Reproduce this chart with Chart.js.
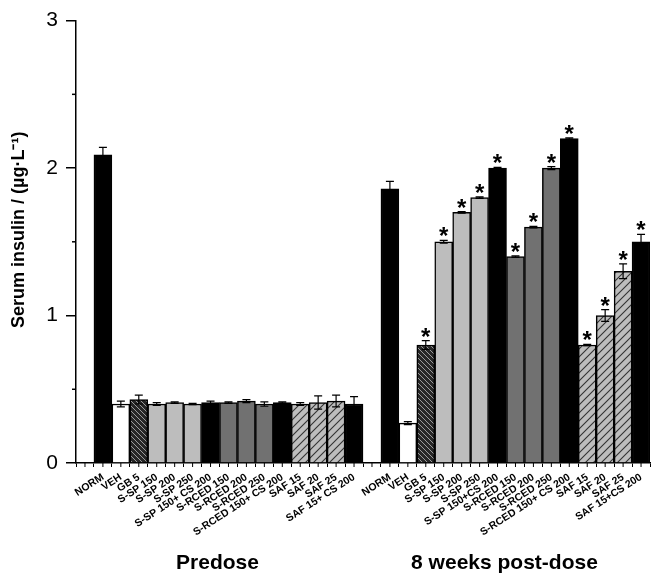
<!DOCTYPE html>
<html>
<head>
<meta charset="utf-8">
<script src="https://cdn.jsdelivr.net/npm/chart.js@4/dist/chart.umd.min.js"></script>
<style>
  html, body { margin: 0; padding: 0; background: #fff; }
  #wrap { width: 652px; height: 573px; position: relative; }
</style>
</head>
<body>
<div id="wrap"><canvas id="c"></canvas></div>
<script>
// ---- Data ----
const groupTitles = ['Predose', '8 weeks post-dose'];
const categoriesPredose = ['NORM','VEH','GB 5','S-SP 150','S-SP 200','S-SP 250','S-SP 150+ CS 200','S-RCED 150','S-RCED 200','S-RCED 250','S-RCED 150+ CS 200','SAF 15','SAF 20','SAF 25','SAF 15+ CS 200'];
const categoriesPost = ['NORM','VEH','GB 5','S-SP 150','S-SP 200','S-SP 250','S-SP 150+CS 200','S-RCED 150','S-RCED 200','S-RCED 250','S-RCED 150+ CS 200','SAF 15','SAF 20','SAF 25','SAF 15+CS 200'];
const predoseValues = [2.09,0.40,0.43,0.40,0.41,0.40,0.41,0.41,0.42,0.40,0.41,0.40,0.41,0.42,0.40];
const predoseErrors = [0.05,0.02,0.03,0.01,0.005,0.005,0.01,0.005,0.01,0.015,0.005,0.01,0.045,0.04,0.05];
const postValues = [1.86,0.27,0.80,1.50,1.70,1.80,2.00,1.40,1.60,2.00,2.20,0.80,1.00,1.30,1.50];
const postErrors = [0.05,0.01,0.03,0.01,0.005,0.005,0.005,0.005,0.005,0.01,0.005,0.005,0.04,0.05,0.05];
const postSignificant = [false,false,true,true,true,true,true,true,true,true,true,true,true,true,true];
const yTicks = [0, 1, 2, 3];
const yMinorTicks = [0.5, 1.5, 2.5];
const yTitle = 'Serum insulin / (\u00b5g\u00b7L\u207b\u00b9)';

// ---- Styles ----
const FONT = "'Liberation Sans', Arial, Helvetica, sans-serif";
const canvas = document.getElementById('c');
const ctx0 = canvas.getContext('2d');

function makeHatch(bg, fg, dir, s, lw) {
  const t = document.createElement('canvas');
  t.width = s; t.height = s;
  const c = t.getContext('2d');
  c.fillStyle = bg; c.fillRect(0, 0, s, s);
  c.strokeStyle = fg; c.lineWidth = lw;
  c.beginPath();
  if (dir === '/') {
    c.moveTo(-1, s + 1); c.lineTo(s + 1, -1);
    c.moveTo(-1, 1); c.lineTo(1, -1);
    c.moveTo(s - 1, s + 1); c.lineTo(s + 1, s - 1);
  } else {
    c.moveTo(-1, -1); c.lineTo(s + 1, s + 1);
    c.moveTo(s - 1, -1); c.lineTo(s + 1, 1);
    c.moveTo(-1, s - 1); c.lineTo(1, s + 1);
  }
  c.stroke();
  return ctx0.createPattern(t, 'repeat');
}
const hatchDark = makeHatch('#262626', '#9a9a9a', '\\', 5, 1);
const hatchLight = makeHatch('#bdbdbd', '#333333', '/', 8, 1.1);
const groupColors = ['#000000','#ffffff',hatchDark,'#bdbdbd','#bdbdbd','#bdbdbd','#000000','#717171','#717171','#717171','#000000',hatchLight,hatchLight,hatchLight,'#000000'];

// ---- Build the category table: spacer + group 1 + spacer + group 2 ----
const labels = [''].concat(categoriesPredose, [''], categoriesPost);
const values = [null].concat(predoseValues, [null], postValues);
const errors = [null].concat(predoseErrors, [null], postErrors);
const stars = [false].concat(predoseValues.map(() => false), [false], postSignificant);
const colors = ['#fff'].concat(groupColors, ['#fff'], groupColors);
const groupRanges = [[1, categoriesPredose.length], [categoriesPredose.length + 2, categoriesPredose.length + 1 + categoriesPost.length]];

const decorPlugin = {
  id: 'decor',
  afterDatasetsDraw(chart) {
    const ctx = chart.ctx;
    const y = chart.scales.y;
    const meta = chart.getDatasetMeta(0);
    ctx.save();
    ctx.strokeStyle = '#000';
    ctx.lineWidth = 1.2;
    values.forEach((v, i) => {
      if (v === null) return;
      const bar = meta.data[i];
      const e = errors[i];
      const yt = y.getPixelForValue(v + e);
      const yb = y.getPixelForValue(v - e);
      const x = bar.x;
      ctx.beginPath();
      ctx.moveTo(x, yt); ctx.lineTo(x, yb);
      ctx.moveTo(x - 4, yt); ctx.lineTo(x + 4, yt);
      ctx.moveTo(x - 4, yb); ctx.lineTo(x + 4, yb);
      ctx.stroke();
      if (stars[i]) {
        ctx.fillStyle = '#000';
        ctx.font = 'bold 24px ' + FONT;
        ctx.textAlign = 'center';
        ctx.textBaseline = 'alphabetic';
        ctx.fillText('*', x, yt + 4);
      }
    });
    ctx.restore();
  },
  afterDraw(chart) {
    const ctx = chart.ctx;
    const x = chart.scales.x;
    const y = chart.scales.y;
    const area = chart.chartArea;
    ctx.save();
    ctx.strokeStyle = '#000';
    ctx.lineWidth = 1;
    // x-axis center ticks
    labels.forEach((l, i) => {
      const px = x.getPixelForValue(i);
      ctx.beginPath();
      ctx.moveTo(px, area.bottom);
      ctx.lineTo(px, area.bottom + 4);
      ctx.stroke();
    });
    // y minor ticks
    ctx.lineWidth = 1.5;
    yMinorTicks.forEach(v => {
      const py = y.getPixelForValue(v);
      ctx.beginPath();
      ctx.moveTo(area.left - 4, py);
      ctx.lineTo(area.left, py);
      ctx.stroke();
    });
    // group titles
    ctx.fillStyle = '#000';
    ctx.font = 'bold 21px ' + FONT;
    ctx.textAlign = 'center';
    ctx.textBaseline = 'alphabetic';
    groupRanges.forEach((r, gi) => {
      const cx = (x.getPixelForValue(r[0]) + x.getPixelForValue(r[1])) / 2 - 11;
      ctx.fillText(groupTitles[gi], cx, chart.height - 4);
    });
    // y title
    ctx.font = 'bold 18px ' + FONT;
    ctx.textBaseline = 'middle';
    ctx.translate(19, (area.top + area.bottom) / 2 - 12);
    ctx.rotate(-Math.PI / 2);
    ctx.fillText(yTitle, 0, 0);
    ctx.restore();
  }
};

new Chart(canvas, {
  type: 'bar',
  data: {
    labels: labels,
    datasets: [{
      data: values,
      backgroundColor: colors,
      borderColor: '#000',
      borderWidth: 1.5,
      barPercentage: 1,
      categoryPercentage: 1
    }]
  },
  options: {
    responsive: true,
    maintainAspectRatio: false,
    animation: false,
    layout: { padding: { top: 18, right: 2, left: 0, bottom: 0 } },
    plugins: { legend: { display: false }, tooltip: { enabled: false } },
    scales: {
      x: {
        afterFit(s) { s.height = 110; },
        grid: { display: true, drawOnChartArea: false, tickLength: 4, color: '#000', lineWidth: 1, offset: true },
        border: { display: true, color: '#000', width: 1.5 },
        ticks: {
          autoSkip: false, maxRotation: 33, minRotation: 33, padding: 4,
          color: '#000', font: { family: FONT, size: 10.5, weight: 'bold' }
        }
      },
      y: {
        min: 0, max: 3,
        afterFit(s) { s.width = 76; },
        afterBuildTicks(s) { s.ticks = yTicks.map(v => ({ value: v })); },
        grid: { display: true, drawOnChartArea: false, tickLength: 10, color: '#000', lineWidth: 1.5 },
        border: { display: true, color: '#000', width: 1.5 },
        ticks: { color: '#000', padding: 8, font: { family: FONT, size: 21 } }
      }
    }
  },
  plugins: [decorPlugin]
});
</script>
</body>
</html>
